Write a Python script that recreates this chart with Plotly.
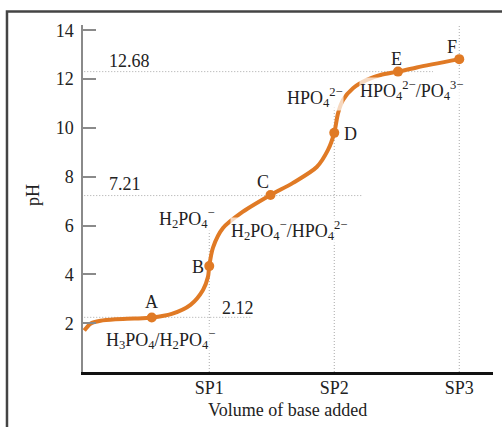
import plotly.graph_objects as go

# titration curve (volume in SP units, pH)
vol = [0.0, 0.05, 0.13, 0.25, 0.4, 0.54, 0.7, 0.85, 0.95, 0.99, 1.0, 1.03, 1.11, 1.25, 1.49,
       1.67, 1.86, 1.95, 2.0, 2.03, 2.07, 2.15, 2.26, 2.37, 2.51, 2.66, 3.0]
ph = [1.7, 1.98, 2.1, 2.16, 2.19, 2.23, 2.38, 2.75, 3.36, 3.9, 4.34, 5.1, 5.9, 6.5, 7.25,
      7.75, 8.4, 9.1, 9.8, 10.6, 11.15, 11.63, 11.97, 12.17, 12.31, 12.48, 12.82]

# labelled points
pt_names = ["A", "B", "C", "D", "E", "F"]
pt_vol = [0.54, 1.0, 1.49, 2.0, 2.51, 3.0]
pt_ph = [2.23, 4.34, 7.25, 9.8, 12.31, 12.82]

# pKa guide lines (drawn height / printed label)
pka_ph = [2.24, 7.23, 12.31]
pka_text = ["2.12", "7.21", "12.68"]
pka_end = [1.33, 2.22, 2.79]

# stoichiometric points
sp_vol = [1, 2, 3]
sp_text = ["SP1", "SP2", "SP3"]
sp_top = [5.9, 10.85, 14.2]

yticks = [2, 4, 6, 8, 10, 12, 14]

orange = '#E07A25'
dotc = '#a8a8a8'
ink = '#222222'
font = 'Liberation Serif'
fs = 18

fig = go.Figure()

# dotted guides
for lvl, end in zip(pka_ph, pka_end):
    fig.add_trace(go.Scatter(x=[0, end], y=[lvl, lvl], mode='lines',
                             line=dict(color=dotc, width=1, dash='1px,2px'),
                             showlegend=False, hoverinfo='skip'))
for v, top in zip(sp_vol, sp_top):
    fig.add_trace(go.Scatter(x=[v, v], y=[0, top], mode='lines',
                             line=dict(color=dotc, width=1, dash='1px,2px'),
                             showlegend=False, hoverinfo='skip'))

# curve
fig.add_trace(go.Scatter(x=vol, y=ph, mode='lines',
                         line=dict(color=orange, width=4, shape='spline', smoothing=0.8),
                         showlegend=False, hoverinfo='skip'))
fig.add_trace(go.Scatter(x=pt_vol, y=pt_ph, mode='markers',
                         marker=dict(color=orange, size=10),
                         showlegend=False, hoverinfo='skip'))

# point letters
letter_pos = [(0.54, 2.85), (0.91, 4.3), (1.43, 7.77), (2.13, 9.77), (2.50, 12.83), (2.94, 13.3)]
for name, (lx, ly) in zip(pt_names, letter_pos):
    fig.add_annotation(x=lx, y=ly, text=name, showarrow=False,
                       font=dict(family=font, size=fs, color=ink))

# pKa numbers
pka_pos = [(1.086, 2.64), (0.18, 7.7), (0.18, 12.75)]
for t, (lx, ly) in zip(pka_text, pka_pos):
    fig.add_annotation(x=lx, y=ly, text=t, showarrow=False, xanchor='left',
                       font=dict(family=font, size=fs, color=ink))

# species labels
species = [
    ("H<sub>3</sub>PO<sub>4</sub>/H<sub>2</sub>PO<sub>4</sub><sup>−</sup>", 0.167, 1.35),
    ("H<sub>2</sub>PO<sub>4</sub><sup>−</sup>", 0.59, 6.3),
    ("H<sub>2</sub>PO<sub>4</sub><sup>−</sup>/HPO<sub>4</sub><sup>2−</sup>", 1.166, 5.8),
    ("HPO<sub>4</sub><sup>2−</sup>", 1.614, 11.25),
    ("HPO<sub>4</sub><sup>2−</sup>/PO<sub>4</sub><sup>3−</sup>", 2.198, 11.55),
]
for t, lx, ly in species:
    fig.add_annotation(x=lx, y=ly, text=t, showarrow=False, xanchor='left',
                       bgcolor='rgba(255,255,255,0.7)', borderpad=0,
                       font=dict(family=font, size=fs, color=ink))

# axis titles
fig.add_annotation(xref='paper', yref='paper', x=-0.122, y=0.51, text="pH",
                   textangle=-90, showarrow=False, xanchor='center', yanchor='middle',
                   font=dict(family=font, size=fs, color=ink))
fig.add_annotation(xref='paper', yref='paper', x=0.4976, y=-0.1095,
                   text="Volume of base added", showarrow=False,
                   xanchor='center', yanchor='middle',
                   font=dict(family=font, size=fs, color=ink))

# outer frame (cropped box)
fig.add_shape(type='path', xref='paper', yref='paper',
              path='M -0.1854,-0.2 L -0.1854,1.0389 L 1.1,1.0389',
              line=dict(color='#444444', width=2.5))

fig.update_layout(
    width=502, height=427,
    margin=dict(l=83, r=9, t=25, b=55),
    plot_bgcolor='white', paper_bgcolor='white',
    showlegend=False,
    xaxis=dict(range=[-0.01, 3.27], showgrid=False, zeroline=False,
               showline=True, linecolor='#111111', linewidth=2.5,
               tickvals=sp_vol, ticktext=sp_text, ticks='', ticklabelstandoff=-2,
               tickfont=dict(family=font, size=fs, color=ink)),
    yaxis=dict(range=[0, 14.22], showgrid=False, zeroline=False,
               showline=True, linecolor='#8a8a8a', linewidth=1.5,
               tickvals=yticks, ticks='inside', ticklen=13, tickwidth=1.5,
               tickcolor='#8a8a8a', ticklabelstandoff=4,
               tickfont=dict(family=font, size=fs, color=ink)),
)

fig.write_html("out.html", config={'displayModeBar': False},
               post_script="document.body.style.margin='0';")
